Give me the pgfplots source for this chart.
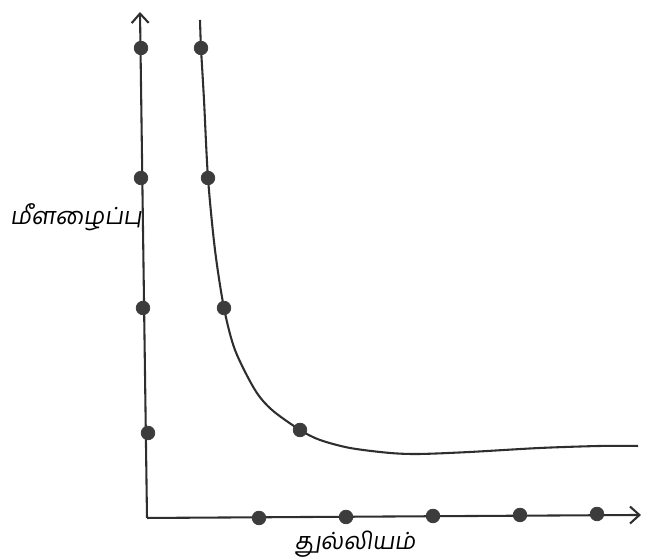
\documentclass[border=0pt]{standalone}
\usepackage{fontspec}
\usepackage{pgfplots}
\pgfplotsset{compat=1.18}
\usetikzlibrary{arrows.meta}
\newfontfamily\tamilfont[Script=Tamil,FakeSlant=0.15]{Hind Madurai}
\definecolor{ink}{HTML}{2E2E2E}
\definecolor{dot}{HTML}{3C3C3C}

\begin{document}
\begin{tikzpicture}
\begin{axis}[
    name=ax,
    width=12cm, height=10.381cm,
    scale only axis,
    xmin=0, xmax=645, ymin=0, ymax=558,
    hide axis,
    clip=false,
]
% axes (pixel units, y measured from the bottom)
\addplot[ink, line width=1.1pt, -{Straight Barb[length=5pt,width=9pt]}] coordinates {(147,40)(140,546)};
\addplot[ink, line width=1.1pt, -{Straight Barb[length=5pt,width=9pt]}] coordinates {(147,40)(641,43)};
% points on the y axis
\addplot[only marks, mark=*, mark size=3.6pt, dot] coordinates {(141,510)(141,380)(143,250)(148,125)};
% points on the x axis
\addplot[only marks, mark=*, mark size=3.6pt, dot] coordinates {(259,40)(346,41)(433,42)(520,43)(597,44)};
% curve
\addplot[ink, line width=1.1pt, smooth, tension=0.5] coordinates {
(200,538)(201,510)(204,458)(208,380)(215,308)(224,250)(235,208)(255,168)(272,148)(300,128)
(320,118)(350,110)(390,105)(420,104)(470,106)(540,110)(600,112)(638,112)};
% points on the curve
\addplot[only marks, mark=*, mark size=3.6pt, dot] coordinates {(201,510)(208,380)(224,250)(300,128)};
\node[anchor=center, font=\tamilfont\fontsize{12.5}{15}\selectfont] at (axis cs:76,341) {மீளழைப்பு};
\node[anchor=center, font=\tamilfont\fontsize{12.5}{15}\selectfont] at (axis cs:355,14) {துல்லியம்};
\end{axis}
\pgfresetboundingbox
\path (ax.south west) rectangle (ax.north east);
\end{tikzpicture}
\end{document}
